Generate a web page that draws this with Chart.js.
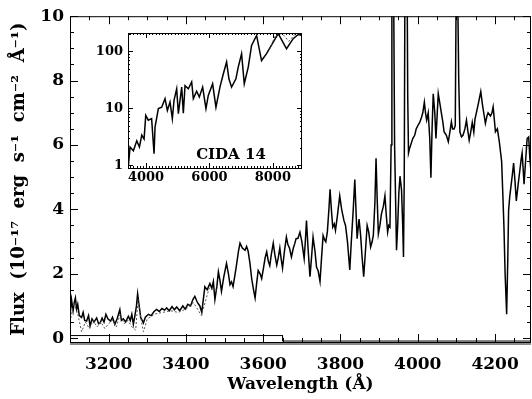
<!DOCTYPE html>
<html>
<head>
<meta charset="utf-8">
<script src="https://cdn.jsdelivr.net/npm/chart.js@4"></script>
<style>
  body { margin: 0; background: #fff; }
  #wrap { position: relative; width: 532px; height: 399px; }
  #mainChart { position: absolute; left: 0; top: 0; }
  #insetChart { position: absolute; left: 80px; top: 20px; }
</style>
</head>
<body>
<div id="wrap">
  <canvas id="mainChart" width="532" height="399"></canvas>
  <canvas id="insetChart" width="240" height="180"></canvas>
</div>
<script>
// main spectrum (wavelength in A, flux in 1e-17 erg/s/cm2/A)
const wave = [3100,3104,3108,3111,3114,3117,3120,3124,3130,3134,3138,3143,3148,3152,3157,3162,3169,3174,3178,3183,3188,3193,3198,3205,3210,3216,3222,3229,3233,3238,3244,3251,3256,3260,3264,3268,3272,3275,3279,3283,3287,3290,3295,3303,3310,3317,3324,3331,3338,3345,3350,3357,3364,3370,3376,3384,3392,3398,3405,3412,3418,3423,3430,3436,3441,3449,3455,3462,3467,3471,3475,3480,3484,3488,3492,3498,3505,3510,3514,3518,3522,3530,3536,3540,3546,3553,3557,3561,3566,3570,3575,3579,3583,3587,3592,3596,3601,3605,3609,3613,3617,3621,3626,3630,3635,3639,3643,3646,3650,3655,3660,3664,3668,3673,3678,3682,3685,3690,3695,3700,3706,3709,3712,3716,3721,3725,3729,3734,3738,3742,3747,3751,3755,3759,3762,3766,3770,3773,3777,3780,3784,3787,3792,3798,3803,3809,3813,3818,3824,3828,3833,3837,3840,3843,3848,3852,3856,3860,3864,3869,3873,3878,3882,3885,3889,3892,3895,3898,3902,3906,3911,3915,3918,3922,3925,3928,3931,3933,3937,3940,3945,3948,3951,3954,3958,3961,3963,3965,3967,3972,3974,3976,3979,3983,3987,3992,3996,4001,4005,4010,4013,4017,4020,4023,4027,4031,4034,4037,4040,4044,4047,4050,4053,4057,4061,4065,4068,4074,4079,4083,4087,4090,4094,4097,4100,4104,4106,4109,4113,4117,4122,4126,4130,4133,4137,4141,4145,4148,4152,4157,4163,4168,4172,4175,4179,4182,4188,4192,4195,4198,4201,4206,4211,4217,4220,4223,4226,4230,4233,4235,4238,4241,4245,4248,4252,4255,4260,4264,4268,4270,4273,4275,4279,4283,4287,4290,4293];
const flux = [0.68,1.2,0.85,1.1,1.25,0.9,1.05,0.7,0.64,0.8,0.55,0.53,0.7,0.38,0.6,0.5,0.63,0.45,0.47,0.62,0.5,0.74,0.6,0.53,0.65,0.43,0.6,0.89,0.55,0.6,0.5,0.68,0.55,0.74,0.43,0.7,1.0,1.38,1.0,0.64,0.55,0.47,0.65,0.74,0.7,0.82,0.89,0.83,0.92,0.87,0.94,0.85,0.98,0.88,0.97,0.85,1.0,0.9,1.05,1.0,1.2,1.3,1.1,1.0,0.8,1.6,1.5,1.7,1.55,1.76,1.2,1.6,2.06,1.8,1.45,1.9,2.32,2.0,1.66,1.75,1.6,2.2,2.7,2.95,2.8,2.73,2.85,2.7,2.3,1.86,1.5,1.25,1.7,2.1,2.0,1.85,2.2,2.5,2.68,2.4,2.25,2.6,2.95,2.6,2.27,2.5,2.8,2.5,2.17,2.7,3.14,2.9,2.8,2.52,2.8,2.95,3.09,3.1,3.29,3.0,2.47,3.0,3.65,2.8,1.91,2.5,3.14,2.7,2.2,2.1,1.76,2.5,3.19,3.05,2.99,3.3,4.0,4.62,3.9,3.45,3.55,3.35,3.8,4.42,4.0,3.65,3.5,3.0,2.12,3.0,4.0,4.93,4.0,3.09,3.7,3.2,2.5,1.91,2.6,3.5,3.3,2.83,3.0,3.2,4.2,5.59,4.3,3.24,3.5,3.86,4.1,4.42,3.9,3.29,3.5,3.45,6.0,12,12,6.0,2.73,3.5,4.5,5.03,4.6,3.5,2.52,5.0,12,12,7.5,5.75,5.9,6.05,6.2,6.3,6.5,6.62,6.7,6.87,7.0,7.33,7.0,6.77,7.0,6.2,4.98,6.5,7.59,7.0,6.2,6.9,7.59,7.3,7.0,6.7,6.41,6.3,6.1,6.4,6.72,6.5,6.5,6.6,12,10,8,6.41,6.25,6.3,6.5,6.77,6.4,6.15,6.4,6.7,6.4,6.8,7.02,7.3,7.66,7.2,6.9,6.67,6.9,7.0,6.9,7.0,7.18,6.8,6.41,6.5,6.1,5.49,4.5,3.45,2.0,0.74,2.5,3.96,4.4,4.7,5.1,5.44,4.8,4.26,4.8,5.2,5.6,5.75,5.2,4.78,5.5,6.2,6.25,5.6,5.18];

// second (dotted) spectrum, only where it departs from the first
const waveB = [3100,3110,3120,3130,3140,3150,3160,3170,3180,3190,3200,3210,3220,3230,3240,3250,3260,3270,3276,3285,3290,3300,3320,3340,3360,3380,3400,3420,3440,3460,3480];
const fluxB = [0.5,1.1,0.75,0.2,0.5,0.3,0.55,0.35,0.5,0.3,0.45,0.55,0.35,0.75,0.45,0.55,0.35,0.25,1.2,0.5,0.2,0.6,0.75,0.8,0.85,0.8,0.9,1.1,0.7,1.55,1.5];

// step line along the bottom
const stepWave = [3100,3650,3650,4293];
const stepLevel = [0.08,0.08,-0.09,-0.09];

const xMajor = [3200,3400,3600,3800,4000,4200];
const yMajor = [0,2,4,6,8,10];

// inset: full spectrum, log flux
const waveIn = [3443,3496,3600,3707,3790,3865,3937,3990,4070,4175,4252,4283,4388,4493,4598,4672,4756,4829,4882,4966,5019,5124,5176,5229,5334,5439,5491,5596,5680,5785,5890,5963,6100,6205,6331,6436,6541,6614,6698,6835,6908,7014,7098,7224,7329,7487,7644,7802,8012,8170,8432,8642,8800,8926];
const fluxIn = [1.0,2.1,1.8,2.7,2.1,3.4,2.9,7.5,6.2,6.6,1.6,4.7,9.9,10.5,14.8,9.2,12.9,6.6,13.8,22,8.1,23.7,8.2,25,22,29,14.8,20,15.8,23.6,9.9,16.9,27,10.5,23.6,40,65,33,23.6,33,53,91,27,53,127,190,69,91,145,205,111,167,198,190];
const waveInB = [7900,8100,8300,8500,8700,8926];
const fluxInB = [110,200,205,150,200,210];
const inXMajor = [4000,6000,8000];
const inYMajor = [1,10,100];

const serif = "'DejaVu Serif', 'Liberation Serif', serif";
const pts = (xs, ys) => xs.map((v, i) => ({x: v, y: ys[i]}));

// ticks drawn inward on all four sides, plus the frame
const frameTicks = {
  id: 'frameTicks',
  beforeDatasetsDraw(chart, args, o) {
    const a = chart.chartArea, ctx = chart.ctx;
    ctx.save();
    ctx.fillStyle = '#fff';
    ctx.fillRect(a.left, a.top, a.right - a.left, a.bottom - a.top);
    ctx.restore();
  },
  afterDatasetsDraw(chart, args, o) {
    const a = chart.chartArea, ctx = chart.ctx;
    const sx = chart.scales.x, sy = chart.scales.y;
    ctx.save();
    if (o.band) {
      ctx.fillStyle = '#8a8a8a';
      ctx.fillRect(a.left, a.bottom, a.right - a.left, 3);
    }
    ctx.strokeStyle = '#000';
    ctx.lineWidth = 1;
    ctx.strokeRect(a.left + 0.5, a.top + 0.5, a.right - a.left - 1, a.bottom - a.top);
    ctx.beginPath();
    const xt = (vals, len) => vals.forEach(v => {
      const p = Math.round(sx.getPixelForValue(v)) + 0.5;
      if (p < a.left || p > a.right) return;
      ctx.moveTo(p, a.bottom); ctx.lineTo(p, a.bottom - len);
      ctx.moveTo(p, a.top); ctx.lineTo(p, a.top + len);
    });
    const yt = (vals, len) => vals.forEach(v => {
      const p = Math.round(sy.getPixelForValue(v)) + 0.5;
      if (p < a.top || p > a.bottom) return;
      ctx.moveTo(a.left, p); ctx.lineTo(a.left + len, p);
      ctx.moveTo(a.right, p); ctx.lineTo(a.right - len, p);
    });
    xt(o.xMajor, o.majLen); xt(o.xMinor, o.minLen);
    yt(o.yMajor, o.majLen); yt(o.yMinor, o.minLen);
    ctx.stroke();
    if (o.label) {
      ctx.fillStyle = '#000';
      ctx.font = 'bold 15px ' + serif;
      ctx.textAlign = 'center';
      ctx.textBaseline = 'middle';
      ctx.fillText(o.label, a.left + 103, a.bottom - 13);
    }
    ctx.restore();
  }
};

const range = (a, b, s) => { const r = []; for (let v = a; v <= b + 1e-9; v += s) r.push(+v.toFixed(3)); return r; };

new Chart(document.getElementById('mainChart'), {
  type: 'line',
  data: {
    datasets: [
      {data: pts(waveB, fluxB), borderColor: '#555', borderWidth: 1, borderDash: [2, 2], pointRadius: 0},
      {data: pts(wave, flux), borderColor: '#000', borderWidth: 1.5, pointRadius: 0},
      {data: pts(stepWave, stepLevel), borderColor: '#000', borderWidth: 1, pointRadius: 0}
    ]
  },
  options: {
    responsive: false,
    animation: false,
    layout: {padding: {top: 13, right: 1, left: 0, bottom: 0}},
    plugins: {
      legend: {display: false},
      tooltip: {enabled: false},
      frameTicks: {
        band: true, majLen: 8, minLen: 4,
        xMajor: xMajor, xMinor: range(3100, 4293, 50),
        yMajor: yMajor, yMinor: range(0, 10, 0.5)
      }
    },
    scales: {
      x: {
        type: 'linear', min: 3100, max: 4293,
        grid: {display: false, drawTicks: false},
        border: {display: false},
        afterBuildTicks: s => { s.ticks = xMajor.map(v => ({value: v})); },
        afterFit: s => { s.height = 57; },
        ticks: {padding: 12, color: '#000', font: {family: serif, size: 17, weight: 'bold'}, callback: v => v},
        title: {display: true, text: 'Wavelength (Å)', color: '#000', padding: {top: 0, bottom: 4},
                font: {family: serif, size: 17, weight: 'bold'}}
      },
      y: {
        min: -0.12, max: 10,
        grid: {display: false, drawTicks: false},
        border: {display: false},
        afterBuildTicks: s => { s.ticks = yMajor.map(v => ({value: v})); },
        afterFit: s => { s.width = 70; },
        ticks: {padding: 6, color: '#000', font: {family: serif, size: 17, weight: 'bold'}, callback: v => v},
        title: {display: true, text: 'Flux  (10⁻¹⁷  erg  s⁻¹  cm⁻²  Å⁻¹)', color: '#000', padding: {top: 9, bottom: 0},
                font: {family: serif, size: 18, weight: 'bold'}}
      }
    }
  },
  plugins: [frameTicks]
});

const logMinor = [];
[1, 10, 100].forEach(d => { for (let k = 2; k <= 9; k++) logMinor.push(d * k); });

new Chart(document.getElementById('insetChart'), {
  type: 'line',
  data: {
    datasets: [
      {data: pts(waveInB, fluxInB), borderColor: '#444', borderWidth: 1, borderDash: [2, 2], pointRadius: 0},
      {data: pts(waveIn, fluxIn), borderColor: '#000', borderWidth: 1.5, pointRadius: 0}
    ]
  },
  options: {
    responsive: false,
    animation: false,
    layout: {padding: {top: 13, right: 18, left: 0, bottom: 0}},
    plugins: {
      legend: {display: false},
      tooltip: {enabled: false},
      frameTicks: {
        band: false, majLen: 5, minLen: 2, label: 'CIDA 14',
        xMajor: inXMajor, xMinor: range(3500, 8900, 100),
        yMajor: inYMajor, yMinor: logMinor
      }
    },
    scales: {
      x: {
        type: 'linear', min: 3430, max: 8920,
        grid: {display: false, drawTicks: false},
        border: {display: false},
        afterBuildTicks: s => { s.ticks = inXMajor.map(v => ({value: v})); },
        afterFit: s => { s.height = 32; },
        ticks: {padding: 2, color: '#000', font: {family: serif, size: 13, weight: 'bold'}, callback: v => v}
      },
      y: {
        type: 'logarithmic', min: 0.9, max: 210,
        grid: {display: false, drawTicks: false},
        border: {display: false},
        afterBuildTicks: s => { s.ticks = inYMajor.map(v => ({value: v})); },
        afterFit: s => { s.width = 48; },
        ticks: {padding: 5, color: '#000', font: {family: serif, size: 13, weight: 'bold'}, callback: v => v}
      }
    }
  },
  plugins: [frameTicks]
});
</script>
</body>
</html>
